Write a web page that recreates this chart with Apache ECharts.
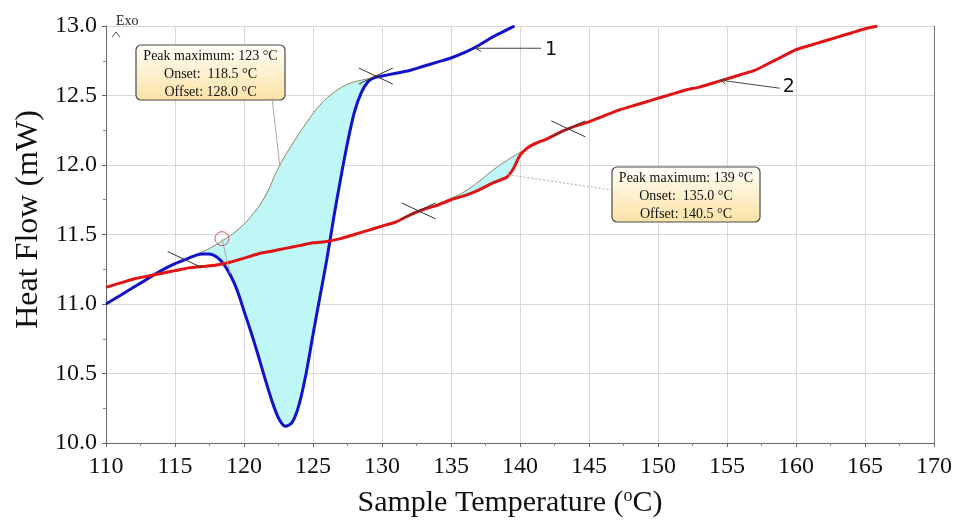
<!DOCTYPE html>
<html><head><meta charset="utf-8">
<script src="https://cdn.jsdelivr.net/npm/echarts@6/dist/echarts.min.js"></script>
<style>html,body{margin:0;padding:0;background:#fff}#c{width:955px;height:523px}</style>
</head><body><div id="c"></div>
<script>
// ---- data ----
const xRange = [110, 170];
const xStep = 5;
const yRange = [10.0, 13.0];
const yStep = 0.5;

// curve 1 (blue): [temperature °C, heat flow mW]
const curve1 = [
  [110,11.00],[111,11.06],[112,11.12],[113,11.18],[114,11.24],[115,11.29],[116,11.33],
  [116.5,11.35],[117,11.36],[117.5,11.36],[118,11.34],[118.5,11.29],[119,11.21],[119.5,11.10],
  [120,10.95],[120.5,10.80],[121,10.64],[121.5,10.47],[122,10.31],[122.5,10.18],[123,10.12],
  [123.5,10.15],[124,10.28],[124.5,10.50],[125,10.78],[125.5,11.05],[126,11.32],[126.5,11.62],
  [127,11.90],[127.5,12.16],[128,12.38],[128.5,12.52],[129,12.60],[129.5,12.63],[130,12.64],
  [131,12.66],[132,12.68],[133,12.71],[134,12.74],[135,12.77],[136,12.81],[137,12.86],
  [138,12.92],[139,12.97],[139.6,13.00]
];
// curve 2 (red)
const curve2 = [
  [110,11.12],[111,11.15],[112,11.18],[113,11.20],[114,11.22],[115,11.24],[116,11.26],
  [117,11.27],[118,11.28],[119,11.30],[120,11.33],[121,11.36],[122,11.38],[123,11.40],
  [124,11.42],[125,11.44],[126,11.45],[127,11.47],[128,11.50],[129,11.53],[130,11.56],
  [131,11.59],[132,11.64],[133,11.68],[134,11.71],[135,11.75],[136,11.78],[137,11.82],
  [138,11.87],[139,11.91],[139.5,11.97],[140,12.07],[140.5,12.12],[141,12.15],[142,12.19],
  [143,12.24],[144,12.28],[145,12.31],[146,12.35],[147,12.39],[148,12.42],[149,12.45],
  [150,12.48],[151,12.51],[152,12.54],[153,12.56],[154,12.59],[155,12.62],[156,12.65],
  [157,12.68],[158,12.73],[159,12.78],[160,12.83],[161,12.86],[162,12.89],[163,12.92],
  [164,12.95],[165,12.98],[165.9,13.00]
];
// interpolated peak baselines
const baseline1 = [
  [116.6,11.36],[117.5,11.40],[118.5,11.46],[119.5,11.53],[120.5,11.63],[121.5,11.77],
  [122.5,11.98],[123.5,12.15],[124.5,12.30],[125.5,12.43],[126.5,12.52],[127.5,12.58],
  [128.5,12.61],[129.5,12.63]
];
const baseline2 = [
  [133,11.68],[134,11.72],[135,11.76],[136,11.81],[137,11.88],[138,11.96],[139,12.03],
  [140,12.09],[141,12.14],[142,12.19],[143,12.24]
];
// annotation anchors
const crossMarks = [[129.55,12.64],[132.65,11.67],[143.5,12.26]];
const tangentMarks = [[115.7,11.32]];
const onsetCircle = [[118.4,11.47]];
const circleLeaderEnd = [119.0,11.22];
const peak1Anchor = [122.6,11.99];
const peak2Anchor = [139.1,11.93];
const label1Anchor = [136.6,12.84];
const label2Anchor = [154.4,12.61];
const peak1Lines = ['Peak maximum: 123 °C', 'Onset:  118.5 °C', 'Offset: 128.0 °C'];
const peak2Lines = ['Peak maximum: 139 °C', 'Onset:  135.0 °C', 'Offset: 140.5 °C'];
const curveLabels = ['1', '2'];

const serif = 'Liberation Serif, Times New Roman, serif';
const chart = echarts.init(document.getElementById('c'));

function polygonBetween(upper, lower) {
  const lo = upper[0][0], hi = upper[upper.length - 1][0];
  const inner = lower.filter(p => p[0] >= lo && p[0] <= hi).slice().reverse();
  return upper.concat(inner);
}
const fill1 = polygonBetween(baseline1, curve1);
const fill2 = polygonBetween(baseline2, curve2);

function fillSeries(pts) {
  return {
    type: 'custom', z: 1, silent: true, data: [0],
    renderItem: (params, api) => ({
      type: 'polygon',
      shape: { points: pts.map(p => api.coord(p)), smooth: 0.2 },
      style: { fill: '#bff7f7', stroke: null }
    })
  };
}

const option = {
  animation: false,
  grid: { left: 106, right: 13, top: 26, bottom: 77 },
  xAxis: {
    type: 'value', min: xRange[0], max: xRange[1], interval: xStep,
    name: 'Sample Temperature ({s|o}C)', nameLocation: 'middle', nameGap: 44,
    nameTextStyle: { fontFamily: serif, fontSize: 30, color: '#111', padding: [0, 20, 0, 0],
      rich: { s: { fontFamily: serif, fontSize: 18, verticalAlign: 'top', color: '#111', padding: [0, 0, 14, 0] } } },
    axisLine: { onZero: false, lineStyle: { color: '#666', width: 1 } },
    axisTick: { length: 4, lineStyle: { color: '#666' } },
    minorTick: { show: true, splitNumber: 2, length: 3, lineStyle: { color: '#888' } },
    axisLabel: { fontFamily: serif, fontSize: 24, color: '#111', margin: 12 },
    splitLine: { show: true, lineStyle: { color: '#d9d9d9', width: 1 } }
  },
  yAxis: [{
    type: 'value', min: yRange[0], max: yRange[1], interval: yStep,
    name: 'Heat Flow (mW)', nameLocation: 'middle', nameGap: 60,
    nameTextStyle: { fontFamily: serif, fontSize: 32, color: '#111', padding: [0, 0, 0, 30] },
    axisLine: { show: true, lineStyle: { color: '#666', width: 1 } },
    axisTick: { show: true, length: 4, lineStyle: { color: '#666' } },
    minorTick: { show: true, splitNumber: 2, length: 3, lineStyle: { color: '#888' } },
    axisLabel: { fontFamily: serif, fontSize: 24, color: '#111', margin: 9, formatter: v => v.toFixed(1) },
    splitLine: { show: true, lineStyle: { color: '#d9d9d9', width: 1 } }
  }, {
    type: 'value', min: yRange[0], max: yRange[1], interval: yStep, position: 'right',
    axisLine: { show: true, lineStyle: { color: '#777', width: 1 } },
    axisTick: { show: false }, axisLabel: { show: false }, splitLine: { show: false }
  }],
  series: [
    fillSeries(fill1),
    fillSeries(fill2),
    { type: 'line', data: baseline1, showSymbol: false, smooth: true, z: 2, silent: true,
      lineStyle: { color: '#8c8062', width: 1 } },
    { type: 'line', data: baseline2, showSymbol: false, smooth: true, z: 2, silent: true,
      lineStyle: { color: '#8c8062', width: 1 } },
    { type: 'line', name: '1', data: curve1, showSymbol: false, smooth: 0.3, z: 3,
      lineStyle: { color: '#1212cc', width: 3 } },
    { type: 'line', name: '2', data: curve2, showSymbol: false, smooth: 0.2, z: 4,
      lineStyle: { color: '#e01414', width: 3 } },
    { type: 'custom', z: 5, silent: true, data: crossMarks,
      renderItem: (params, api) => {
        const c = api.coord([api.value(0), api.value(1)]);
        return { type: 'group', children: [
          { type: 'line', shape: { x1: c[0]-17, y1: c[1]-8, x2: c[0]+17, y2: c[1]+8 }, style: { stroke: '#333', lineWidth: 1 } },
          { type: 'line', shape: { x1: c[0]-17, y1: c[1]+8, x2: c[0]+17, y2: c[1]-8 }, style: { stroke: '#333', lineWidth: 1 } }
        ]};
      } },
    { type: 'custom', z: 5, silent: true, data: tangentMarks,
      renderItem: (params, api) => {
        const c = api.coord([api.value(0), api.value(1)]);
        return { type: 'line', shape: { x1: c[0]-17, y1: c[1]-8, x2: c[0]+17, y2: c[1]+8 }, style: { stroke: '#333', lineWidth: 1 } };
      } },
    { type: 'custom', z: 5, silent: true, data: onsetCircle,
      renderItem: (params, api) => {
        const c = api.coord([api.value(0), api.value(1)]);
        const e = api.coord(circleLeaderEnd);
        return { type: 'group', children: [
          { type: 'line', shape: { x1: c[0], y1: c[1], x2: e[0], y2: e[1] }, style: { stroke: '#aaa', lineWidth: 1 } },
          { type: 'circle', shape: { cx: c[0], cy: c[1], r: 7 }, style: { fill: 'none', stroke: '#c65a6a', lineWidth: 1 } }
        ]};
      } }
  ]
};
chart.setOption(option);

function px(p) { return chart.convertToPixel({ gridIndex: 0 }, p); }
function box(x, y, w, h, lines) {
  const kids = [{
    type: 'rect', shape: { x: 0, y: 0, width: w, height: h, r: 5 },
    style: { fill: new echarts.graphic.LinearGradient(0, 0, 0, 1, [
      { offset: 0, color: '#fffef8' }, { offset: 1, color: '#fbe3a6' }]), stroke: '#4a4a4a', lineWidth: 1.2 }
  }];
  lines.forEach((t, i) => kids.push({
    type: 'text', x: w / 2, y: 11 + i * 18,
    style: { text: t, fontFamily: serif, fontSize: 14, fill: '#111', align: 'center', verticalAlign: 'middle' }
  }));
  return { type: 'group', x: x, y: y, z: 20, children: kids };
}
const a1 = px(peak1Anchor), a2 = px(peak2Anchor), l1 = px(label1Anchor), l2 = px(label2Anchor);
const graphics = [
  { type: 'text', x: 116, y: 21, z: 20, style: { text: 'Exo', fontFamily: serif, fontSize: 14, fill: '#222', verticalAlign: 'middle' } },
  { type: 'polyline', z: 20, shape: { points: [[112, 37], [116, 32], [120, 37]] }, style: { stroke: '#555', lineWidth: 1, fill: null } },
  { type: 'line', z: 10, shape: { x1: 272, y1: 98, x2: a1[0], y2: a1[1] }, style: { stroke: '#aaa', lineWidth: 1 } },
  { type: 'line', z: 10, shape: { x1: a2[0], y1: a2[1], x2: 612, y2: 190 }, style: { stroke: '#aaa', lineWidth: 1, lineDash: [2, 2] } },
  box(136, 45, 149, 55, peak1Lines),
  box(612, 167, 148, 55, peak2Lines),
  { type: 'line', z: 10, shape: { x1: l1[0] + 2, y1: l1[1], x2: l1[0] + 68, y2: l1[1] }, style: { stroke: '#444', lineWidth: 1 } },
  { type: 'polyline', z: 10, shape: { points: [[l1[0] + 8, l1[1] - 3], [l1[0] + 2, l1[1]], [l1[0] + 8, l1[1] + 3]] }, style: { stroke: '#444', lineWidth: 1, fill: null } },
  { type: 'text', z: 10, x: l1[0] + 72, y: l1[1] + 2, style: { text: curveLabels[0], fontFamily: 'DejaVu Sans', fontSize: 19, fill: '#111', verticalAlign: 'middle' } },
  { type: 'line', z: 10, shape: { x1: l2[0] + 2, y1: l2[1], x2: l2[0] + 61, y2: l2[1] + 8 }, style: { stroke: '#444', lineWidth: 1 } },
  { type: 'polyline', z: 10, shape: { points: [[l2[0] + 8, l2[1] - 2], [l2[0] + 2, l2[1]], [l2[0] + 7, l2[1] + 4]] }, style: { stroke: '#444', lineWidth: 1, fill: null } },
  { type: 'text', z: 10, x: l2[0] + 64, y: l2[1] + 7, style: { text: curveLabels[1], fontFamily: 'DejaVu Sans', fontSize: 19, fill: '#111', verticalAlign: 'middle' } }
];
chart.setOption({ graphic: graphics });
</script>
</body></html>
